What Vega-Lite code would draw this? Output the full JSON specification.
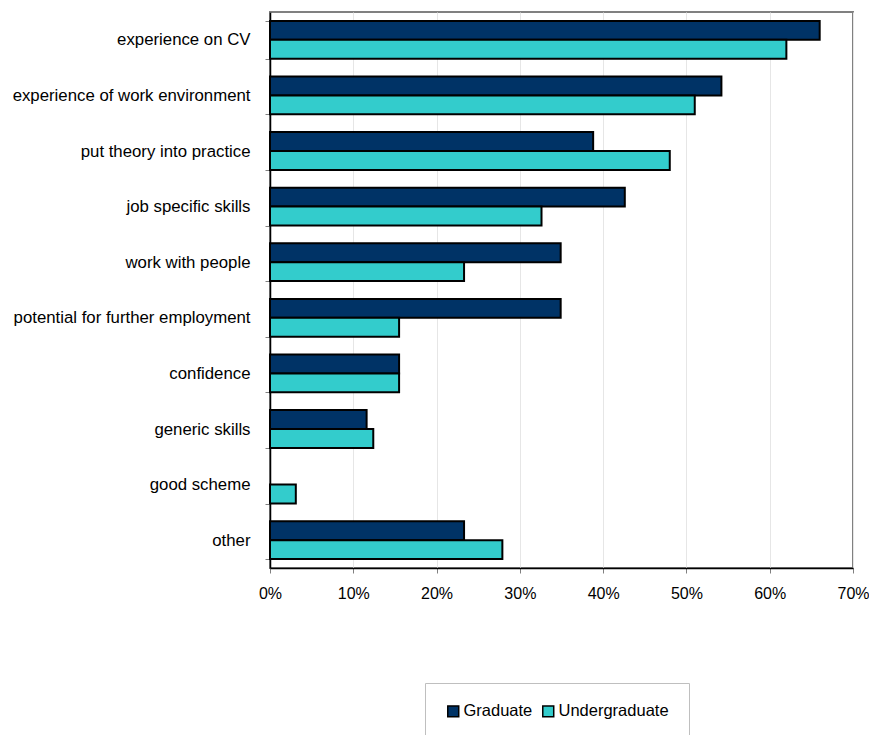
{
  "$schema": "https://vega.github.io/schema/vega-lite/v6.json",
  "width": 583,
  "height": 556,
  "autosize": {"type": "none"},
  "padding": {"left": 270, "top": 12, "right": 16, "bottom": 167},
  "background": "white",
  "config": {
    "font": "Liberation Sans",
    "view": {"stroke": "#808080", "strokeWidth": 2},
    "axis": {"labelFont": "Liberation Sans", "labelColor": "#000000", "labelLimit": 0}
  },
  "data": {
    "values": [
      {"reason": "experience on CV", "group": "Graduate", "value": 0.66},
      {"reason": "experience on CV", "group": "Undergraduate", "value": 0.62},
      {"reason": "experience of work environment", "group": "Graduate", "value": 0.542},
      {"reason": "experience of work environment", "group": "Undergraduate", "value": 0.51},
      {"reason": "put theory into practice", "group": "Graduate", "value": 0.388},
      {"reason": "put theory into practice", "group": "Undergraduate", "value": 0.48},
      {"reason": "job specific skills", "group": "Graduate", "value": 0.426},
      {"reason": "job specific skills", "group": "Undergraduate", "value": 0.326},
      {"reason": "work with people", "group": "Graduate", "value": 0.349},
      {"reason": "work with people", "group": "Undergraduate", "value": 0.233},
      {"reason": "potential for further employment", "group": "Graduate", "value": 0.349},
      {"reason": "potential for further employment", "group": "Undergraduate", "value": 0.155},
      {"reason": "confidence", "group": "Graduate", "value": 0.155},
      {"reason": "confidence", "group": "Undergraduate", "value": 0.155},
      {"reason": "generic skills", "group": "Graduate", "value": 0.116},
      {"reason": "generic skills", "group": "Undergraduate", "value": 0.124},
      {"reason": "good scheme", "group": "Undergraduate", "value": 0.031},
      {"reason": "other", "group": "Graduate", "value": 0.233},
      {"reason": "other", "group": "Undergraduate", "value": 0.279}
    ]
  },
  "mark": {"type": "bar", "stroke": "#000000", "strokeWidth": 2},
  "encoding": {
    "y": {
      "field": "reason",
      "type": "nominal",
      "sort": null,
      "title": null,
      "scale": {"paddingInner": 0.32, "paddingOuter": 0.16},
      "axis": {
        "labelFontSize": 16.8,
        "domainColor": "#000000",
        "domainWidth": 1.5,
        "tickBand": "extent",
        "tickColor": "#808080",
        "tickSize": 5,
        "labelPadding": 15,
        "grid": false
      }
    },
    "yOffset": {"field": "group", "type": "nominal", "sort": ["Graduate", "Undergraduate"], "scale": {"domain": ["Graduate", "Undergraduate"]}},
    "x": {
      "field": "value",
      "type": "quantitative",
      "title": null,
      "scale": {"domain": [0, 0.7], "nice": false},
      "axis": {
        "format": "%",
        "values": [0, 0.1, 0.2, 0.3, 0.4, 0.5, 0.6, 0.7],
        "labelFontSize": 16,
        "labelOverlap": false,
        "labelFlush": false,
        "grid": true,
        "gridColor": "#e6e6e6",
        "domainColor": "#000000",
        "domainWidth": 1.5,
        "tickColor": "#808080",
        "tickSize": 5,
        "labelPadding": 12
      }
    },
    "fill": {
      "field": "group",
      "type": "nominal",
      "scale": {"domain": ["Graduate", "Undergraduate"], "range": ["#003366", "#33cccc"]},
      "legend": {
        "title": null,
        "orient": "none",
        "direction": "horizontal",
        "legendX": 155,
        "legendY": 671,
        "symbolType": "square",
        "symbolSize": 120,
        "symbolStrokeColor": "#000000",
        "symbolStrokeWidth": 1.5,
        "labelFontSize": 16.5,
        "labelFont": "Liberation Sans",
        "labelColor": "#000000",
        "labelOffset": 2,
        "columnPadding": 6,
        "padding": 20,
        "strokeColor": "#bfbfbf",
        "fillColor": "white"
      }
    }
  }
}
